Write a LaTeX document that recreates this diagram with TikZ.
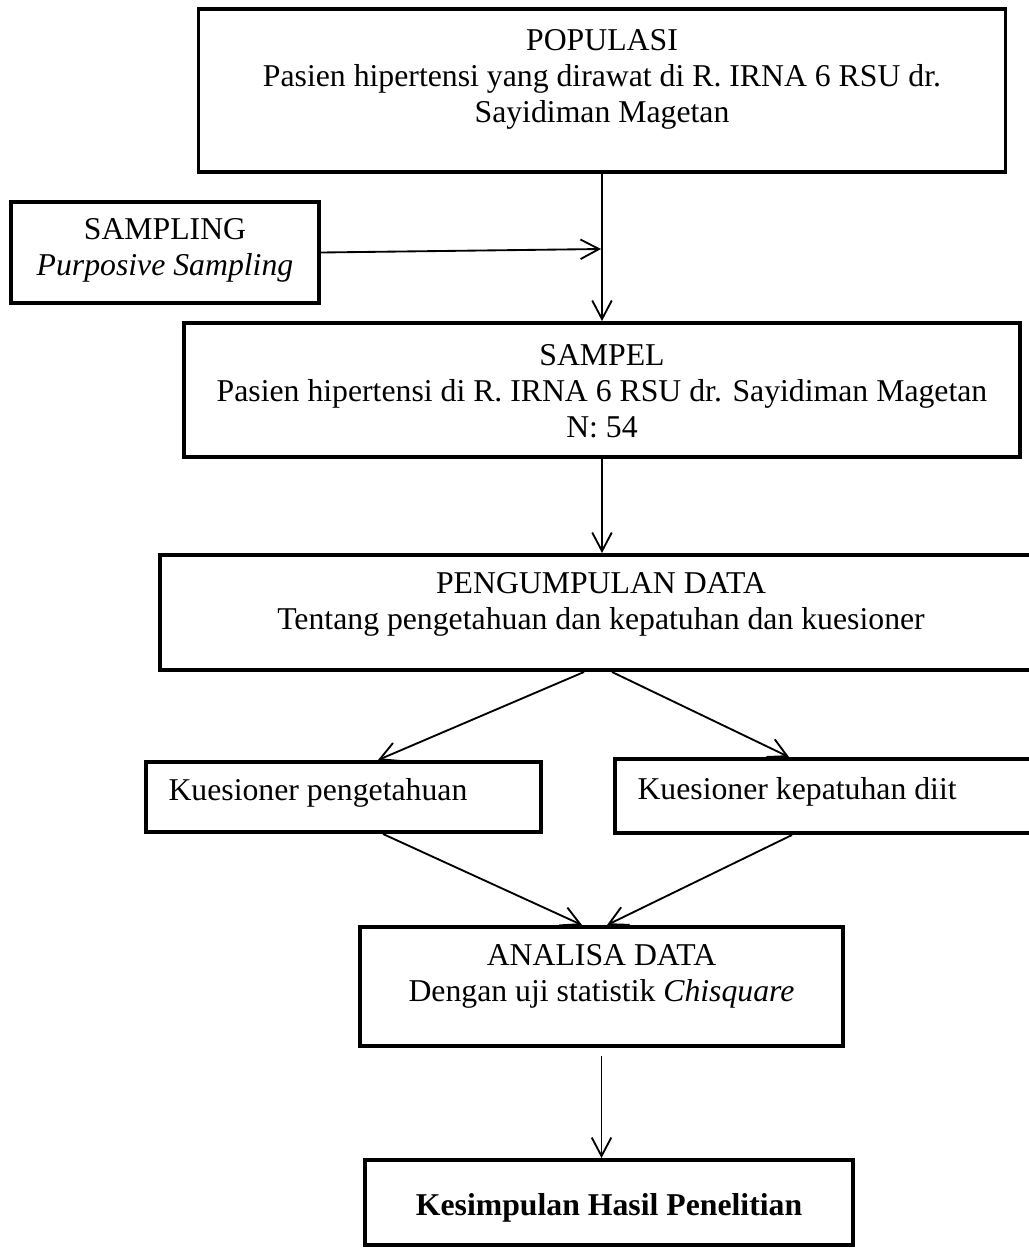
\documentclass[tikz,border=0pt]{standalone}
\usepackage{fontspec}
\setmainfont{Liberation Serif}
\usetikzlibrary{arrows.meta,calc}

\begin{document}
\begin{tikzpicture}[x=0.378pt,y=-0.378pt,
  box/.style 2 args={draw,line width=1.5pt,minimum width=#1*0.378pt,minimum height=#2*0.378pt,inner sep=0pt},
  txt/.style={font=\fontsize{12}{13.6}\selectfont,align=center,inner sep=0pt},
  arr/.style={line width=0.7pt,-{Straight Barb[length=7pt,width=7.4pt]}}]
\useasboundingbox (0,0) rectangle (1029,1248);
% kotak
\node [box={807}{163}] (pop) at (602,90.5) {};
\node [txt] (popt) at (602,79) {POPULASI\\Pasien hipertensi yang dirawat di R. IRNA 6 RSU dr.\\Sayidiman Magetan};
\node [box={308}{101}] (smpl) at (165,252.5) {};
\node [txt] (smplt) at (165,250) {SAMPLING\\\textit{Purposive Sampling}};
\node [box={836}{134}] (smp) at (602,390) {};
\node [txt] (smpt) at (602,391) {SAMPEL\\Pasien hipertensi di R. IRNA 6 RSU dr. Sayidiman Magetan\\N: 54};
\node [box={882}{115}] (peng) at (601,612.5) {};
\node [txt] (pengt) at (601,604.5) {PENGUMPULAN DATA\\Tentang pengetahuan dan kepatuhan dan kuesioner};
\node [box={395}{70}] (kp) at (343.5,797) {};
\node [txt,anchor=west] (kpt) at (168,793) {Kuesioner pengetahuan};
\node [box={427}{74}] (kk) at (828.5,796) {};
\node [txt,anchor=west] (kkt) at (637,792) {Kuesioner kepatuhan diit};
\node [box={483}{119}] (ana) at (601.5,986.5) {};
\node [txt] (anat) at (601.5,976.5) {ANALISA DATA\\Dengan uji statistik \textit{Chisquare}};
\node [box={488}{85}] (kes) at (609,1202.5) {};
\node [txt] (kest) at (609,1208) {\textbf{Kesimpulan Hasil Penelitian}};
% panah
\coordinate (j) at (601,249);
\draw [arr] (pop) -- (smp);
\draw [arr] (smpl.east) -- (j);
\draw [arr] (smp.south) -- (smp.south |- peng.north);
\draw [arr] ($(peng.south)+(-17,0)$) -- ($(kp.north)+(34.5,0)$);
\draw [arr] ($(peng.south)+(11,0)$) -- ($(kk.north)+(-39.5,0)$);
\draw [arr] ($(kp.south)+(39.5,0)$) -- ($(ana.north)+(-19.5,0)$);
\draw [arr] ($(kk.south)+(-36.5,0)$) -- ($(ana.north)+(5.5,0)$);
\draw [arr,shorten <=3pt] (ana.south) -- (ana.south |- kes.north);
\end{tikzpicture}
\end{document}
